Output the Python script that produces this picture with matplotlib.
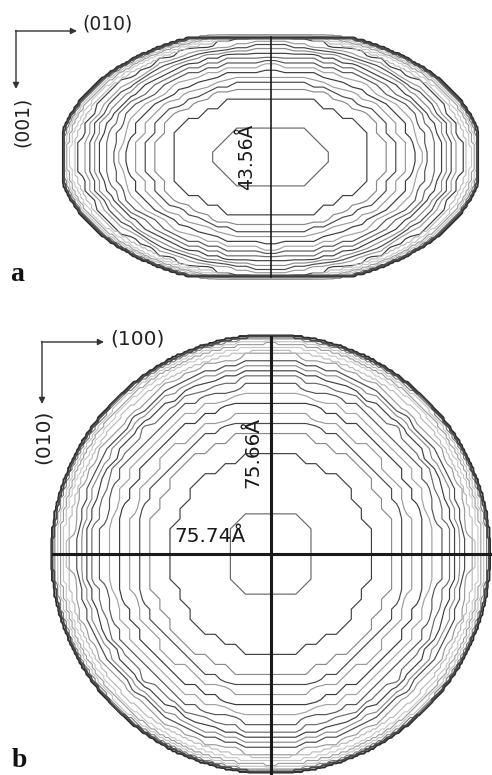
import numpy as np
import matplotlib
matplotlib.use("Agg")
import matplotlib.pyplot as plt

# ---------------- data ----------------
# panel a : crystallite section in the (010)/(001) plane  (Å)
a_width_010 = 75.0        # horizontal extent
a_height_001 = 43.56      # labelled thickness
a_full_010 = 77.1         # un-truncated ellipse diameters (estimated)
a_full_001 = 47.0
a_label = "43.56Å"

# panel b : crystallite section in the (100)/(010) plane  (Å)
b_width_100 = 75.74
b_height_010 = 75.66
b_full_100 = 76.4
b_full_010 = 76.6
b_label_h = "75.74Å"
b_label_v = "75.66Å"

# contour positions as fraction of the semi-axis
contour_frac_a = [0.255, 0.475, 0.55, 0.59, 0.63, 0.67, 0.71, 0.745, 0.78,
                  0.81, 0.84, 0.86, 0.88, 0.90, 0.925, 0.945, 0.96, 0.972,
                  0.983, 0.992, 0.998]
contour_frac_b = [0.2, 0.455, 0.56, 0.61, 0.65, 0.70, 0.735, 0.77, 0.81,
                  0.83, 0.86, 0.875, 0.90, 0.925, 0.945, 0.96, 0.972,
                  0.983, 0.992, 0.998]

axis_labels_a = ["(010)", "(001)"]
axis_labels_b = ["(100)", "(010)"]
panel_letters = ["a", "b"]

# ---------------- style ----------------
gray_cycle = ["#6a6a6a", "#404040", "#8a8a8a", "#4a4a4a", "#9a9a9a", "#3c3c3c",
              "#a2a2a2", "#555555"]
outer_colors = ["#b8b8b8", "#c6c6c6", "#9a9a9a", "#c0c0c0", "#7a7a7a", "#4a4a4a",
                "#2e2e2e"]

W_PX, H_PX = 492, 775
fig = plt.figure(figsize=(W_PX / 100, H_PX / 100), dpi=100)
fig.patch.set_facecolor("white")


def box_axes(x0, y0, x1, y1):
    """axes covering pixel box (x0,y0)-(x1,y1), y measured from top"""
    return fig.add_axes([x0 / W_PX, 1 - y1 / H_PX, (x1 - x0) / W_PX, (y1 - y0) / H_PX])


def colors_for(fr):
    n_out = int((fr > 0.905).sum())
    n_in = len(fr) - n_out
    inner = [gray_cycle[i % len(gray_cycle)] for i in range(n_in)]
    outer = outer_colors[-n_out:]
    return np.array(inner + outer)


def draw_panel(ax, width, height, full_w, full_h, frac):
    ax.set_xlim(-width / 2, width / 2)
    ax.set_ylim(-height / 2, height / 2)
    ax.set_axis_off()
    fr = np.array(frac)
    cols_all = colors_for(fr)
    groups = [(fr <= 0.905, 1.75, 0.85),
              ((fr > 0.905) & (fr < 0.99), 0.5, 0.8),
              (fr >= 0.99, 0.4, 1.4)]
    for mask, d, lw in groups:
        radii = fr[mask]
        cols = cols_all[mask]
        nx = int(np.ceil(width / 2 / d)) + 3
        ny = int(np.ceil(height / 2 / d)) + 3
        x = (np.arange(-nx, nx) + 0.5) * d
        y = (np.arange(-ny, ny) + 0.5) * d
        X, Y = np.meshgrid(x, y)
        R = np.hypot(X / (full_w / 2), Y / (full_h / 2))
        R[(np.abs(X) > width / 2) | (np.abs(Y) > height / 2)] = 9.0
        F = (R[..., None] < radii[None, None, :]).sum(axis=-1).astype(float)
        n = len(radii)
        cs = ax.contour(X, Y, F, levels=np.arange(n) + 0.5,
                        colors=list(cols[::-1]), linewidths=lw)
        cs.set_clip_on(False)


# panel a
ax_a = box_axes(64, 37, 477, 277)
draw_panel(ax_a, a_width_010, a_height_001, a_full_010, a_full_001, contour_frac_a)
ax_a.plot([0, 0], [-a_height_001 / 2, a_height_001 / 2], color="#1a1a1a", lw=1.2,
          clip_on=False)

# panel b
ax_b = box_axes(52.7, 337, 488.7, 771)
draw_panel(ax_b, b_width_100, b_height_010, b_full_100, b_full_010, contour_frac_b)
ax_b.plot([0, 0], [-b_height_010 / 2 - 1, b_height_010 / 2], color="#1a1a1a", lw=2.2,
          clip_on=False)
ax_b.plot([-b_width_100 / 2, b_width_100 / 2 + 1], [0, 0], color="#1a1a1a", lw=2.2,
          clip_on=False)

# overlay in pixel coordinates for annotations
ov = fig.add_axes([0, 0, 1, 1], facecolor="none")
ov.set_xlim(0, W_PX)
ov.set_ylim(H_PX, 0)
ov.set_axis_off()

arrow_kw = dict(arrowstyle="-|>", lw=1.0, color="#333333", mutation_scale=9,
                shrinkA=0, shrinkB=0)
# panel a direction arrows
ov.annotate("", xy=(77, 31), xytext=(15.5, 31), arrowprops=arrow_kw)
ov.annotate("", xy=(16, 89), xytext=(16, 30.5), arrowprops=arrow_kw)
ov.text(107, 24, axis_labels_a[0], fontsize=13.5, ha="center", va="center",
        color="#222222")
ov.text(22, 122, axis_labels_a[1], fontsize=13.5, ha="center", va="center",
        rotation=90, color="#222222")
ov.text(247, 157, a_label, fontsize=13.5, ha="center", va="center", rotation=90,
        color="#1a1a1a")
ov.text(10, 281, panel_letters[0], fontsize=20, fontweight="bold",
        family="Liberation Serif", ha="left", va="baseline", color="#111111")

# panel b direction arrows
ov.annotate("", xy=(104, 342), xytext=(41.5, 342), arrowprops=arrow_kw)
ov.annotate("", xy=(42, 404), xytext=(42, 341.5), arrowprops=arrow_kw)
ov.text(137, 339, axis_labels_b[0], fontsize=14.5, ha="center", va="center",
        color="#222222")
ov.text(43, 437, axis_labels_b[1], fontsize=14.5, ha="center", va="center",
        rotation=90, color="#222222")
ov.text(253, 452, b_label_v, fontsize=14.5, ha="center", va="center", rotation=90,
        color="#1a1a1a")
ov.text(210, 536, b_label_h, fontsize=14.5, ha="center", va="center",
        color="#1a1a1a")
ov.text(12, 767, panel_letters[1], fontsize=20, fontweight="bold",
        family="Liberation Serif", ha="left", va="baseline", color="#111111")

fig.savefig("out.png", dpi=100, facecolor="white")
